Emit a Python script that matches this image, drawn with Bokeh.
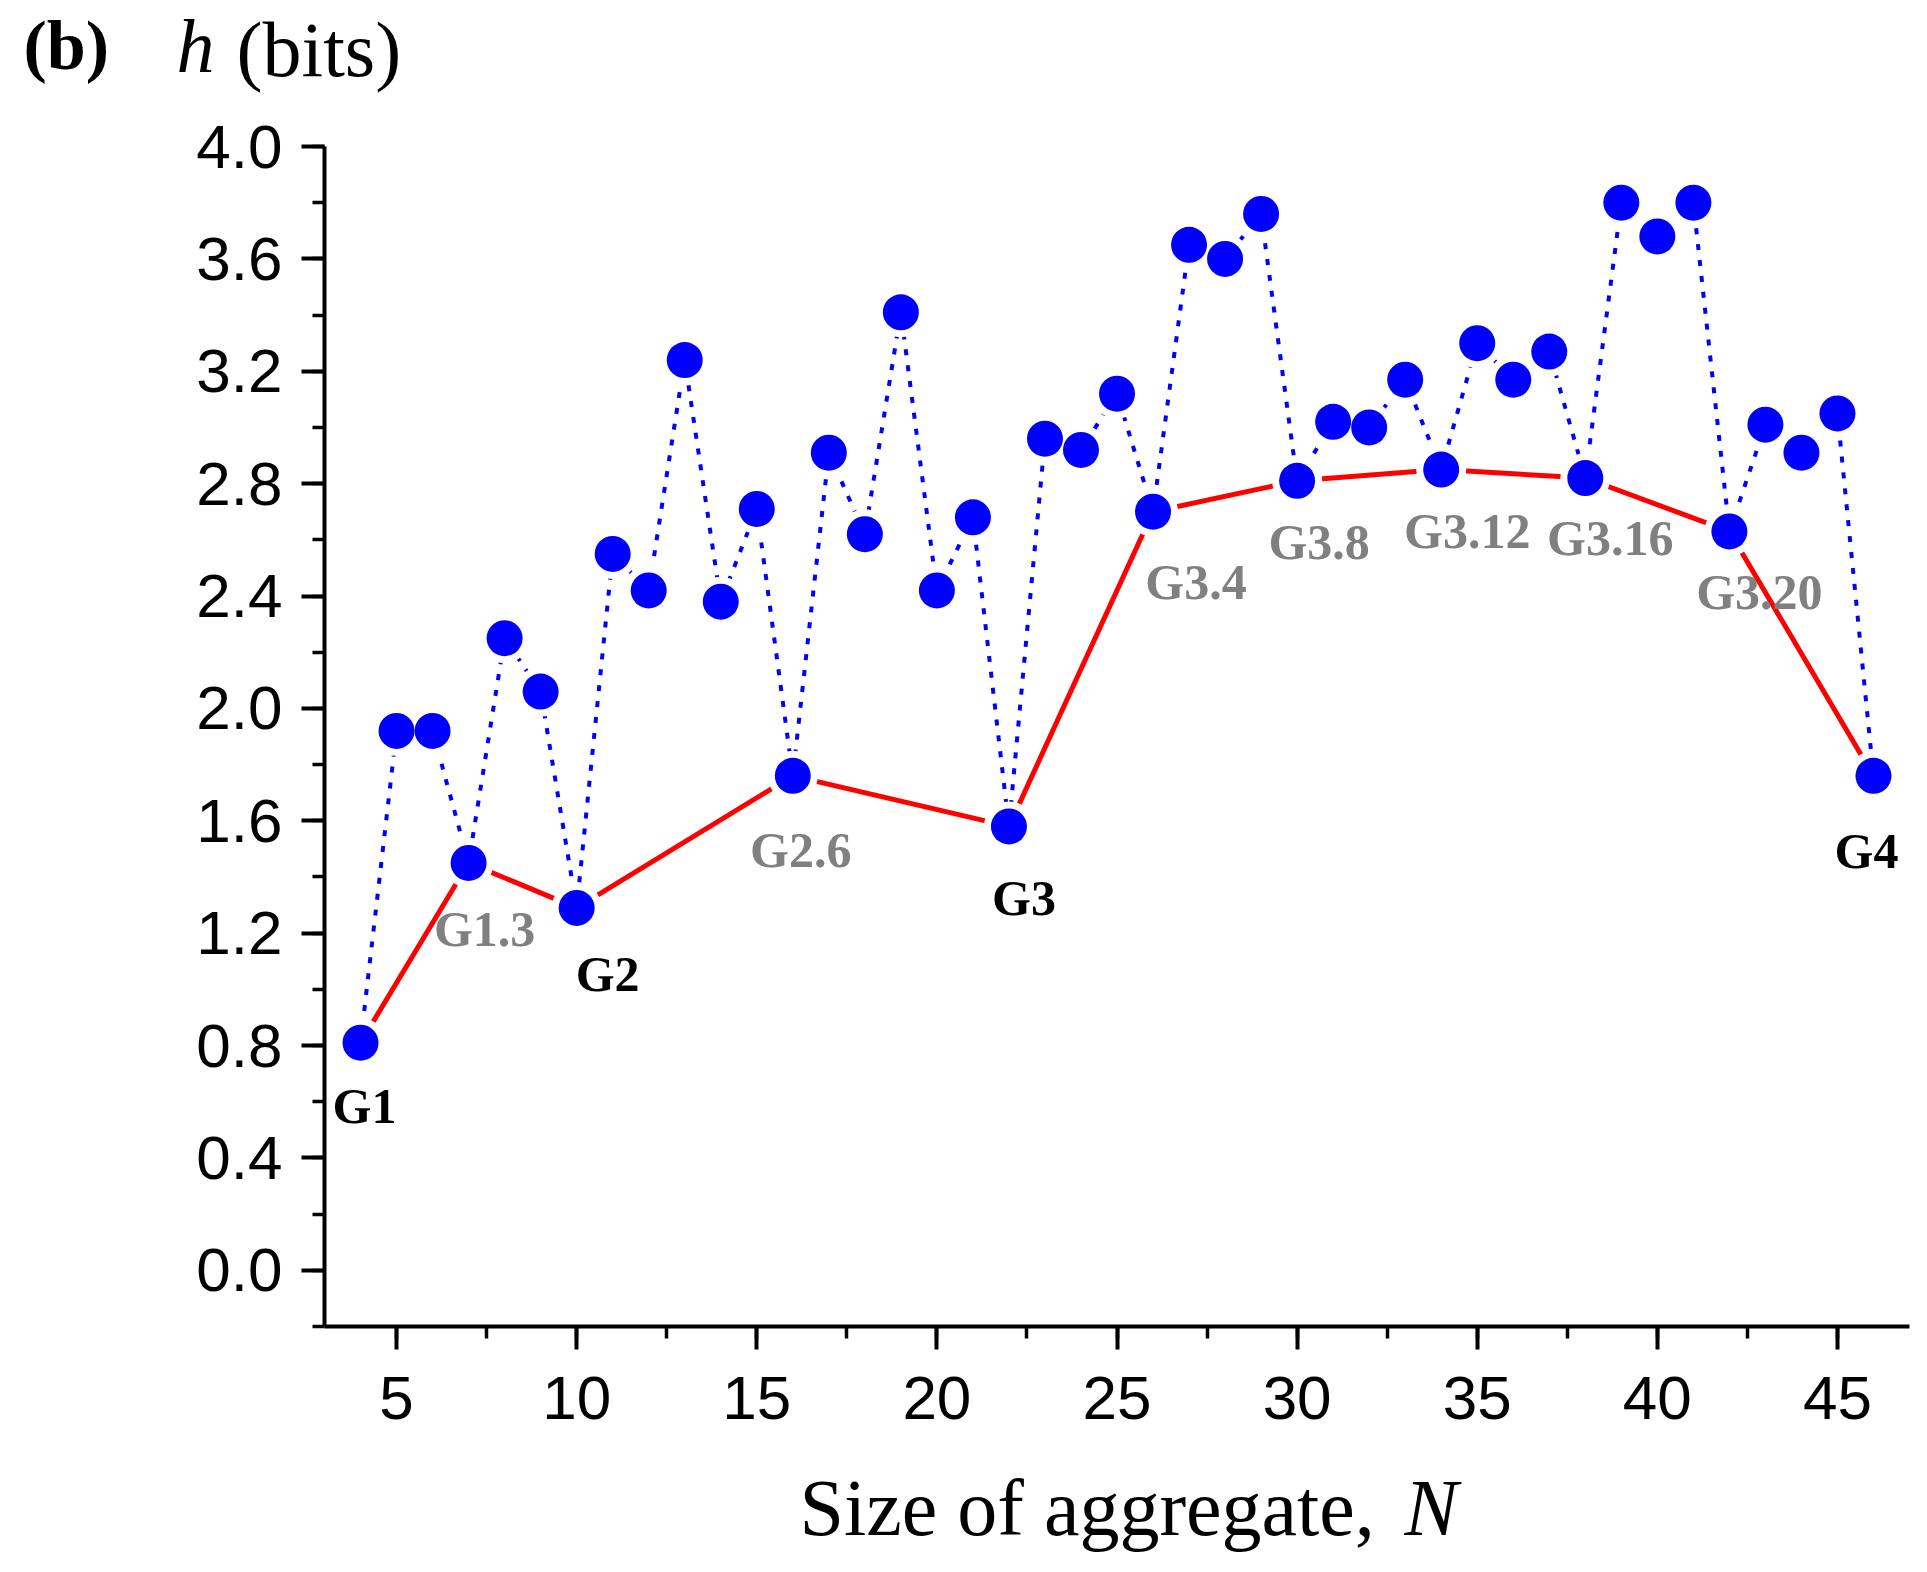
from bokeh.plotting import figure
from bokeh.models import (ColumnDataSource, Range1d, SingleIntervalTicker,
                          NumeralTickFormatter, Label)
from bokeh.core.properties import value
from bokeh.embed import file_html
from bokeh.resources import INLINE

# ---------------- data ----------------
sizes = list(range(4, 47))
entropy = [0.81, 1.92, 1.92, 1.45, 2.25, 2.06, 1.29, 2.55, 2.42, 3.24,
           2.38, 2.71, 1.76, 2.91, 2.62, 3.41, 2.42, 2.68, 1.58, 2.96,
           2.92, 3.12, 2.70, 3.65, 3.60, 3.76, 2.81, 3.02, 3.00, 3.17,
           2.85, 3.30, 3.17, 3.27, 2.82, 3.80, 3.68, 3.80, 2.63, 3.01,
           2.91, 3.05, 1.76]

group_sizes = [4, 7, 10, 16, 22, 26, 30, 34, 38, 42, 46]
group_names = ["G1", "G1.3", "G2", "G2.6", "G3", "G3.4", "G3.8",
               "G3.12", "G3.16", "G3.20", "G4"]
group_main = [True, False, True, False, True, False, False,
              False, False, False, True]

# label offsets (screen px) relative to their point
label_dx = [4, 16, 31, 8, 15, 43, 22, 26, 25, 30, -7]
label_dy = [63, 66, 66, 74, 72, 70, 61, 61, 60, 61, 75]

lookup = dict(zip(sizes, entropy))
group_h = [lookup[n] for n in group_sizes]

# ---------------- figure ----------------
W, H = 1911, 1554
p = figure(width=W, height=H, output_backend="svg", toolbar_location=None,
           x_range=Range1d(3, 47), y_range=Range1d(-0.2, 4.0),
           min_border_left=324, min_border_right=2,
           min_border_top=146, min_border_bottom=H - 1326)
p.outline_line_color = None
p.grid.visible = False
p.background_fill_color = "white"
p.border_fill_color = "white"

for ax in (p.xaxis[0], p.yaxis[0]):
    ax.axis_line_width = 4
    ax.axis_line_color = "black"
    ax.major_tick_line_width = 4
    ax.minor_tick_line_width = 3.5
    ax.major_tick_line_color = "black"
    ax.minor_tick_line_color = "black"
    ax.major_tick_out = 23
    ax.major_tick_in = 0
    ax.minor_tick_out = 12
    ax.minor_tick_in = 0
    ax.major_label_text_font = "Liberation Sans"
    ax.major_label_text_font_size = "62px"
    ax.major_label_text_color = "black"

p.xaxis[0].ticker = SingleIntervalTicker(interval=5, num_minor_ticks=2)
p.yaxis[0].ticker = SingleIntervalTicker(interval=0.4, num_minor_ticks=2)
p.yaxis[0].formatter = NumeralTickFormatter(format="0.0")
p.xaxis[0].major_label_standoff = 27
p.yaxis[0].major_label_standoff = 19

src = ColumnDataSource(dict(n=sizes, h=entropy))
gsrc = ColumnDataSource(dict(n=group_sizes, h=group_h))

p.line("n", "h", source=src, line_color="#0000FF", line_width=4,
       line_dash="6 10")
p.line("n", "h", source=gsrc, line_color="#FF0000", line_width=5)
# white halo to create gaps between lines and markers
p.scatter("n", "h", source=src, size=50, fill_color="white",
          line_color=None)
p.scatter("n", "h", source=src, size=36, fill_color="#0000FF",
          line_color=None)

lsrc = ColumnDataSource(dict(
    n=group_sizes, h=group_h, text=group_names,
    color=["black" if m else "#808080" for m in group_main],
    dx=label_dx, dy=label_dy))
p.text("n", "h", text="text", source=lsrc, text_color="color",
       x_offset="dx", y_offset="dy",
       text_font=value("Liberation Serif"), text_font_style="bold",
       text_font_size="50px", text_align="center", text_baseline="middle")

# ---------------- titles (labels placed in side panels) ----------------
# Labels in side panels are positioned relative to their own panel box.


def add_label(x, y, text, style, size, side):
    p.add_layout(Label(x=x, y=y, x_units="screen", y_units="screen",
                       text=text, text_font="Liberation Serif",
                       text_font_style=style, text_font_size=size,
                       text_color="black", text_align="left",
                       text_baseline="alphabetic"), side)


# above panel
add_label(-88, 97, "(bits)", "normal", "78px", "above")
# below panel (under the x axis)
add_label(475, 2, "Size of aggregate,", "normal", "80px", "below")
# left panels (stacked outward from the y axis)
add_label(-84, 1281, "(b)", "bold", "70px", "left")
add_label(107, 1281, "h", "italic", "76px", "left")
add_label(1388, -181, "N", "italic", "80px", "left")

open("out.html", "w").write(file_html(p, INLINE))
